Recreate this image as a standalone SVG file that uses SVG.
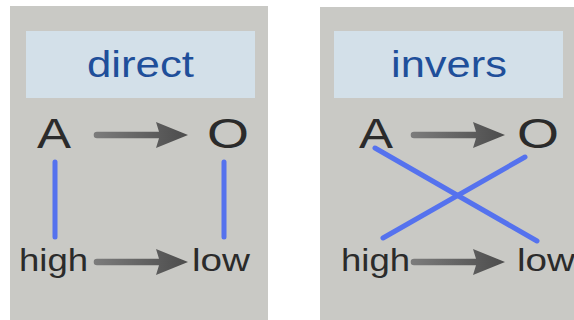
<svg xmlns="http://www.w3.org/2000/svg" width="574" height="320" viewBox="0 0 574 320">
<defs>
<linearGradient id="ag" x1="0" y1="0" x2="1" y2="0">
<stop offset="0" stop-color="#7c7c7c"/>
<stop offset="1" stop-color="#4c4c4c"/>
</linearGradient>
<path id="arrow" d="M0,-3.3 L62,-3.3 L59,-13 L91,0 L59,13 L62,3.3 L0,3.3 A3.3,3.3 0 0 1 0,-3.3 Z"/>
<style>
.panel{fill:#c9c9c5}
.head{fill:#d3e0e9}
.title{font-family:"Liberation Sans",Arial,sans-serif;font-size:37px;fill:#1f4f9a}
.big{font-family:"Liberation Sans",Arial,sans-serif;font-size:42px;fill:#2b2b2b}
.small{font-family:"Liberation Sans",Arial,sans-serif;font-size:31px;fill:#2b2b2b}
.arr{fill:url(#ag)}
.link{stroke:#5572ee;stroke-width:5;stroke-linecap:round;fill:none}
</style>
</defs>
<g id="panel-direct">
<rect class="panel" x="10" y="6" width="258" height="314"/>
<rect class="head" x="26" y="31" width="229" height="67"/>
<text class="title" x="87" y="77" textLength="107" lengthAdjust="spacingAndGlyphs">direct</text>
</g>
<g id="panel-invers">
<rect class="panel" x="320" y="7" width="254" height="313"/>
<rect class="head" x="334" y="31" width="229" height="67"/>
<text class="title" x="391" y="77" textLength="116" lengthAdjust="spacingAndGlyphs">invers</text>
</g>
<g id="node-A-direct"><text class="big" x="37" y="148" textLength="34" lengthAdjust="spacingAndGlyphs">A</text></g>
<g id="node-O-direct"><text class="big" x="207" y="148" textLength="42" lengthAdjust="spacingAndGlyphs">O</text></g>
<g id="node-high-direct"><text class="small" x="19" y="271" textLength="69" lengthAdjust="spacingAndGlyphs">high</text></g>
<g id="node-low-direct"><text class="small" x="192" y="271" textLength="58" lengthAdjust="spacingAndGlyphs">low</text></g>
<g id="node-A-invers"><text class="big" x="359" y="148" textLength="34" lengthAdjust="spacingAndGlyphs">A</text></g>
<g id="node-O-invers"><text class="big" x="517" y="148" textLength="42" lengthAdjust="spacingAndGlyphs">O</text></g>
<g id="node-high-invers"><text class="small" x="341" y="271" textLength="69" lengthAdjust="spacingAndGlyphs">high</text></g>
<g id="node-low-invers"><text class="small" x="517" y="271" textLength="58" lengthAdjust="spacingAndGlyphs">low</text></g>
<g id="connectors">
<use href="#arrow" class="arr" transform="translate(97,135)"/>
<use href="#arrow" class="arr" transform="translate(97,262)"/>
<use href="#arrow" class="arr" transform="translate(414,135)"/>
<use href="#arrow" class="arr" transform="translate(414,262)"/>
<line class="link" x1="55" y1="162" x2="55" y2="237"/>
<line class="link" x1="224" y1="162" x2="224" y2="237"/>
<line class="link" x1="375" y1="148" x2="537" y2="241"/>
<line class="link" x1="525" y1="157" x2="383" y2="238"/>
</g>
</svg>
